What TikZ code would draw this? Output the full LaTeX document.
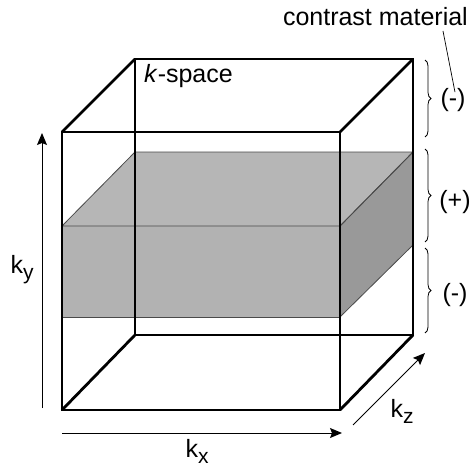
\documentclass[tikz,border=0pt]{standalone}
\usepackage{fontspec}
\setmainfont{Liberation Sans}
\usepackage{tikz}
\usetikzlibrary{arrows.meta,decorations.pathreplacing}
\definecolor{slabtop}{HTML}{B6B6B6}
\definecolor{slabfront}{HTML}{B2B2B2}
\definecolor{slabside}{HTML}{999999}
\definecolor{slabedge}{HTML}{4A4A4A}
\newcommand{\ksub}[1]{k\raisebox{-0.45ex}{\fontsize{21}{24}\selectfont #1}}

\begin{document}
\begin{tikzpicture}[x=1pt, y=-1pt, every node/.style={font=\fontsize{25}{30}\selectfont, inner sep=0pt},
  edge/.style={line width=2.8pt, line join=miter},
  slabline/.style={slabedge, line width=0.8pt},
  axis/.style={-{Stealth[length=12pt,width=10pt,inset=2pt]}, line width=1pt},
  brc/.style={decorate, decoration={brace, amplitude=6pt}, line width=0.8pt}]
\useasboundingbox (0,0) rectangle (476,468);
% cube corners
\coordinate (f1) at (62,132); \coordinate (f2) at (340,132);
\coordinate (f3) at (340,410); \coordinate (f4) at (62,410);
\coordinate (b1) at (135,59); \coordinate (b2) at (413,59);
\coordinate (b3) at (413,335); \coordinate (b4) at (135,335);
% slab corners
\coordinate (s1) at (62,226); \coordinate (s2) at (340,226);
\coordinate (s3) at (340,317); \coordinate (s4) at (62,317);
\coordinate (t1) at (135,152); \coordinate (t2) at (413,152);
\coordinate (t3) at (413,245);
% slab
\fill[slabfront] (s1) rectangle (s3);
\fill[slabtop] (s1) -- (t1) -- (t2) -- (s2) -- cycle;
\fill[slabside] (s2) -- (t2) -- (t3) -- (s3) -- cycle;
\draw[slabline] (s1) -- (t1) -- (t2) -- (s2) -- cycle;
\draw[slabline] (s2) -- (t2) -- (t3) -- (s3) -- cycle;
\draw[slabline] (s4) -- (s3);
% cube
\draw[edge] (f1) rectangle (f3);
\draw[edge] (b1) rectangle (b3);
\draw[edge] (f1) -- (b1); \draw[edge] (f2) -- (b2);
\draw[edge] (f3) -- (b3); \draw[edge] (f4) -- (b4);
\node[anchor=west] (ksp) at (144,76) {\textit{k}-space};
% axes
\coordinate (yfrom) at (42,408); \coordinate (yto) at (42,133);
\coordinate (xfrom) at (62,433); \coordinate (xto) at (342,433);
\coordinate (zfrom) at (353,425); \coordinate (zto) at (425,353);
\draw[axis] (yfrom) -- (yto);
\draw[axis] (xfrom) -- (xto);
\draw[axis] (zfrom) -- (zto);
\node (ky) at (22,270) {\ksub{y}};
\node (kx) at (197,451) {\ksub{x}};
\node (kz) at (402,411) {\ksub{z}};
% braces
\coordinate (u1) at (425,60); \coordinate (u2) at (425,137);
\coordinate (p1) at (425,149); \coordinate (p2) at (425,242);
\coordinate (l1) at (425,248); \coordinate (l2) at (425,333);
\draw[brc] (u1) -- (u2);
\draw[brc] (p1) -- (p2);
\draw[brc] (l1) -- (l2);
\node (mone) at (453,100) {(-)};
\node (plus) at (455,202) {(+)};
\node (mtwo) at (455,295) {(-)};
\node[anchor=east] (cm) at (468,17) {contrast material};
\coordinate (lead) at (443,31);
\draw[line width=0.7pt] (lead) -- ([xshift=2pt,yshift=-4pt]mone.north);
\end{tikzpicture}
\end{document}
